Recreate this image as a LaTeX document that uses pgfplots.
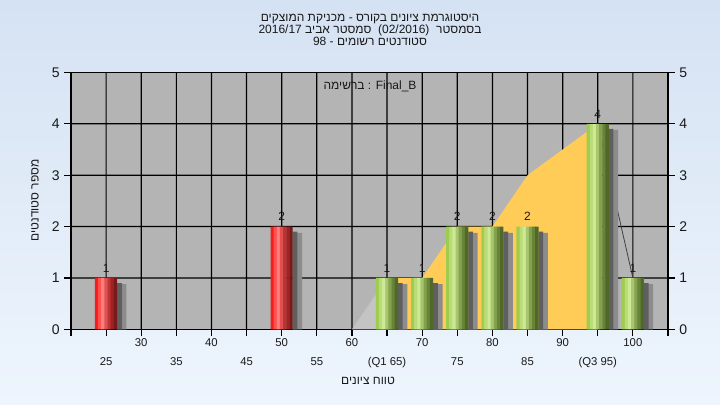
\documentclass[border=0pt]{standalone}
\usepackage{fontspec}
\setmainfont{Liberation Sans}
\newfontfamily\hebfont[Script=Hebrew]{Liberation Sans}
\newcommand\he[1]{{\hebfont #1}}
\TeXXeTstate=1
\usepackage{pgfplots}
\usepackage{pgfplotstable}
\pgfplotsset{compat=1.18}

\definecolor{pagetop}{RGB}{213,226,243}
\definecolor{pagebot}{RGB}{238,245,253}
\definecolor{plotbg}{RGB}{180,180,180}
\definecolor{areayel}{RGB}{255,204,88}
\definecolor{trigray}{RGB}{196,196,196}
\definecolor{shadowA}{RGB}{95,95,95}
\definecolor{shadowB}{RGB}{140,140,140}
\definecolor{txt}{RGB}{25,25,25}
% cylinder strips, left to right
\definecolor{redA}{RGB}{245,30,30}
\definecolor{redB}{RGB}{255,80,80}
\definecolor{redC}{RGB}{255,125,125}
\definecolor{redD}{RGB}{225,80,80}
\definecolor{redE}{RGB}{190,50,50}
\definecolor{redF}{RGB}{155,35,35}
\definecolor{redG}{RGB}{120,25,25}
\definecolor{grnA}{RGB}{158,204,78}
\definecolor{grnB}{RGB}{185,220,120}
\definecolor{grnC}{RGB}{205,232,150}
\definecolor{grnD}{RGB}{168,198,110}
\definecolor{grnE}{RGB}{132,162,78}
\definecolor{grnF}{RGB}{104,132,56}
\definecolor{grnG}{RGB}{80,105,40}

\pgfplotstableread{
x y
25 1
50 2
}\redbars
\pgfplotstableread{
x y
65 1
70 1
75 2
80 2
85 2
95 4
100 1
}\greenbars
\pgfplotstableread{
x y
25 1
50 2
65 1
70 1
75 2
80 2
85 2
95 4
100 1
}\bars

\pgfplotsset{
  strip/.style={ybar, bar width=2.6pt, draw=none},
}
% one cylinder-like bar made of seven flat strips
\newcommand\barstrips[2]{%
  \addplot[strip, bar shift=-7.07pt, fill=#2A] table {#1};
  \addplot[strip, bar shift=-4.71pt, fill=#2B] table {#1};
  \addplot[strip, bar shift=-2.36pt, fill=#2C] table {#1};
  \addplot[strip, bar shift=0pt,     fill=#2D] table {#1};
  \addplot[strip, bar shift=2.36pt,  fill=#2E] table {#1};
  \addplot[strip, bar shift=4.71pt,  fill=#2F] table {#1};
  \addplot[strip, bar shift=7.0pt, bar width=2.5pt, fill=#2G] table {#1};
}

\begin{document}
\begin{tikzpicture}
% page background, light blue gradient in bands
\foreach \i in {0,...,39}{
  \pgfmathsetmacro\p{100*(\i+0.5)/40}
  \fill[pagetop!\p!pagebot] (0pt,{\i*7.59375pt}) rectangle (540pt,{(\i+1)*7.59375pt+0.3pt});
}
\useasboundingbox (0,0) rectangle (540pt,303.75pt);

\begin{axis}[at={(53.25pt,57pt)}, anchor=south west, scale only axis,
  width=447.75pt, height=192.75pt, xmin=20, xmax=105, ymin=0, ymax=5,
  axis background/.style={fill=plotbg},
  tick align=outside, major tick length=5pt,
  tick style={black, line width=0.9pt},
  axis line style={black, line width=0.9pt},
  xtick pos=left, ytick pos=left,
  /pgf/number format/assume math mode=true,
  ytick={0,...,5},
  yticklabel style={font=\fontsize{10.5}{10.5}\selectfont, text=txt},
  xtick={20,25,...,105},
  xticklabels={{},{\strut\\25},{\strut 30},{\strut\\35},{\strut 40},{\strut\\45},{\strut 50},{\strut\\55},{\strut 60},{\strut\\(Q1 65)},{\strut 70},{\strut\\75},{\strut 80},{\strut\\85},{\strut 90},{\strut\\(Q3 95)},{\strut 100},{}},
  xticklabel style={font=\fontsize{8.5}{14.25}\selectfont, align=center, text=txt, inner sep=1pt, yshift=3.5pt},
]
% grid, drawn as thin filled bars
\addplot[ybar, bar width=0.9pt, bar shift=0pt, fill=black, draw=none] coordinates {
  (25,5) (30,5) (35,5) (40,5) (45,5) (50,5) (55,5) (60,5)
  (65,5) (70,5) (75,5) (80,5) (85,5) (90,5) (95,5) (100,5)};
\addplot[xbar, bar width=0.9pt, bar shift=0pt, fill=black, draw=none] coordinates {
  (105,1) (105,2) (105,3) (105,4)};

\addplot[fill=trigray, draw=none] coordinates {(60,0) (65,1)} \closedcycle;
\addplot[fill=areayel, draw=none] coordinates {(65,1) (70,1) (75,2) (80,2) (85,3) (95,4)} \closedcycle;
\addplot[draw=black!75, line width=0.6pt] coordinates {(95,4) (100,1)};

% shadows
\addplot[ybar, bar width=7pt, bar shift=11.75pt, fill=shadowB, draw=none] table[x=x, y expr=\thisrow{y}-0.12] {\bars};
\addplot[ybar, bar width=3.5pt, bar shift=10pt, fill=shadowA, draw=none] table[x=x, y expr=\thisrow{y}-0.1] {\bars};

\barstrips{\redbars}{red}
\barstrips{\greenbars}{grn}

% value labels
\addplot[ybar, bar width=16.5pt, bar shift=0pt, draw=none, fill=none,
  nodes near coords,
  every node near coord/.append style={font=\fontsize{9}{9}\selectfont, text=txt, inner sep=2pt, yshift=2pt}]
  table {\bars};
\end{axis}

% right-hand scale
\begin{axis}[at={(53.25pt,57pt)}, anchor=south west, scale only axis,
  width=447.75pt, height=192.75pt, xmin=20, xmax=105, ymin=0, ymax=5,
  axis x line=none, axis y line*=right,
  tick align=outside, major tick length=5pt,
  tick style={black, line width=0.9pt},
  axis line style={black, line width=0.9pt},
  /pgf/number format/assume math mode=true,
  ytick={0,...,5},
  yticklabel style={font=\fontsize{10.5}{10.5}\selectfont, text=txt}]
\addplot[draw=none] coordinates {(20,0)};
\end{axis}

\node[align=center, font=\fontsize{9}{9}\selectfont, text=txt] at (277.5pt,281.25pt)
  {\beginR\he{היסטוגרמת ציונים בקורס - מכניקת המוצקים}\endR\\
   \beginR\he{בסמסטר}\ \ \beginL(02/2016)\endL\ \ \he{סמסטר אביב} \beginL2016/17\endL\endR\\
   \beginR\he{סטודנטים רשומים} - \beginL98\endL\endR};
\node[font=\fontsize{9}{9}\selectfont, text=txt] at (277.5pt,239.25pt) {\he{ברשימה} : Final\_B};
\node[rotate=90, font=\fontsize{9}{9}\selectfont, text=txt] at (26.25pt,153.75pt) {\beginR\he{מספר סטודנטים}\endR};
\node[font=\fontsize{9}{9}\selectfont, text=txt] at (276pt,18pt) {\beginR\he{טווח ציונים}\endR};
\end{tikzpicture}
\end{document}
